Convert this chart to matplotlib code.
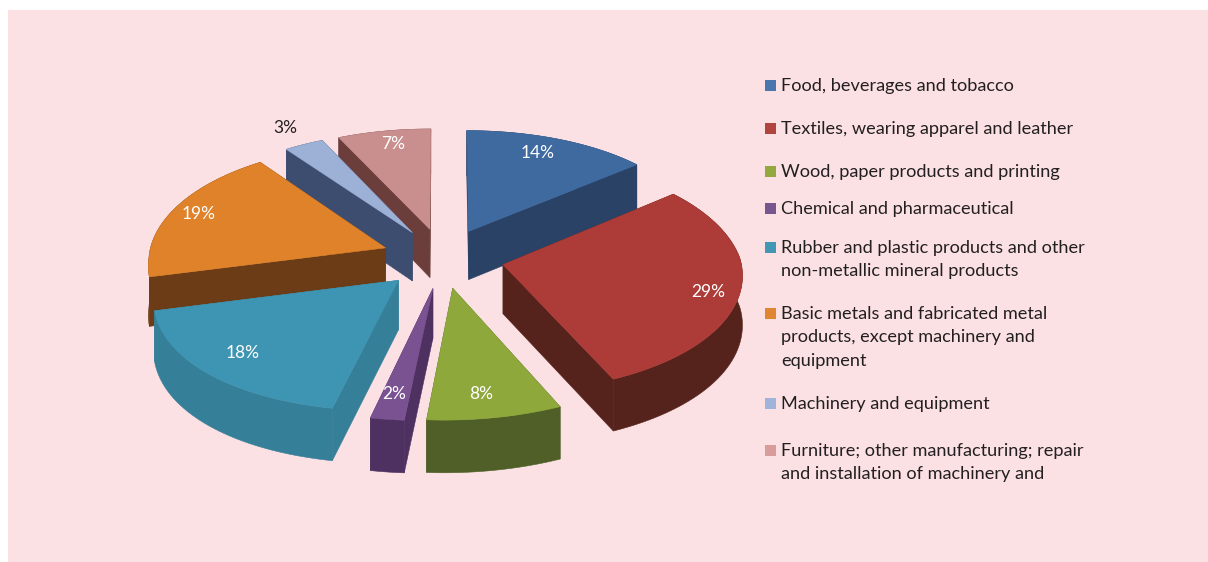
import numpy as np
import matplotlib.pyplot as plt
from matplotlib.patches import Rectangle

plt.rcParams['font.family'] = ['Lato', 'DejaVu Sans']

labels = ['Food, beverages and tobacco',
          'Textiles, wearing apparel and leather',
          'Wood, paper products and printing',
          'Chemical and pharmaceutical',
          'Rubber and plastic products and other\nnon-metallic mineral products',
          'Basic metals and fabricated metal\nproducts, except machinery and\nequipment',
          'Machinery and equipment',
          'Furniture; other manufacturing; repair\nand installation of machinery and']
values = [14, 29, 8, 2, 18, 19, 3, 7]
pct_labels = ['14%', '29%', '8%', '2%', '18%', '19%', '3%', '7%']

top_colors = ['#3E6AA0', '#AD3C38', '#8FA83C', '#7A5291', '#3E95B3', '#DF8229', '#9DB0D6', '#C98F8E']
side_colors = ['#2A4266', '#55231C', '#4F5F27', '#4E3160', '#367F98', '#6B3C16', '#3D4D70', '#6B3E3C']
legend_colors = ['#4A75AD', '#B04540', '#93A83F', '#77558F', '#4298B4', '#E08530', '#A0B3D9', '#D89C9B']
pct_colors = ['white', 'white', 'white', 'white', 'white', 'white', '#231F20', 'white']

# layout, in pixels of the 1208x562 picture
pct_x = [538, 708, 481, 394, 243, 199, 285, 393]
pct_y = [152, 291, 393, 393, 352, 213, 127, 143]
legend_y = [85, 128, 171, 208, 247, 313, 403, 450]
cx, cy = 443, 258
rx, ry = 237, 116
explode = 0.26
depth = 49
shift = 80


def project(X, Y, drop=0.0):
    # squashed pie with some perspective, front is stretched and pushed left
    s = 1 - 0.1 * Y + 0.02 * Y ** 2
    sx = cx + rx * X * s - shift * np.maximum(s - 1, 0)
    sy = cy - ry * Y * (1 - 0.09 * Y) + drop * depth * (1 - 0.06 * Y)
    return sx, sy


fig = plt.figure(figsize=(12.08, 5.62), dpi=100)
ax = fig.add_axes([0, 0, 1, 1])
ax.set_xlim(0, 1208)
ax.set_ylim(562, 0)
ax.axis('off')
ax.add_patch(Rectangle((8, 10), 1200, 552, fc='#FBE1E4', ec='none'))

edges = np.cumsum([0] + values) / sum(values) * 2 * np.pi
mids = (edges[:-1] + edges[1:]) / 2
order = np.argsort(-np.cos(mids))

for i in order:
    t = np.linspace(edges[i], edges[i + 1], 60)
    ax0 = explode * np.sin(mids[i])
    ay0 = explode * np.cos(mids[i])
    arc_X = ax0 + np.sin(t)
    arc_Y = ay0 + np.cos(t)
    apex = project(ax0, ay0)
    apex_low = project(ax0, ay0, 1)
    tx, ty = project(arc_X, arc_Y)
    bx, by = project(arc_X, arc_Y, 1)

    faces = [
        ([apex[0], tx[0], bx[0], apex_low[0]], [apex[1], ty[0], by[0], apex_low[1]]),
        ([apex[0], tx[-1], bx[-1], apex_low[0]], [apex[1], ty[-1], by[-1], apex_low[1]]),
        (np.r_[tx, bx[::-1]], np.r_[ty, by[::-1]]),
    ]
    faces.sort(key=lambda f: np.mean(f[1]))
    for fx, fy in faces:
        ax.fill(fx, fy, fc=side_colors[i], ec=side_colors[i], lw=0.4)
    ax.fill(np.r_[apex[0], tx], np.r_[apex[1], ty], fc=top_colors[i], ec=top_colors[i], lw=0.4)

for x, y, s, c in zip(pct_x, pct_y, pct_labels, pct_colors):
    ax.text(x, y + 1, s, color=c, fontsize=12.5, ha='center', va='center')

for y, s, c in zip(legend_y, labels, legend_colors):
    ax.add_patch(Rectangle((765, y - 5.5), 11, 11, fc=c, ec='none'))
    ax.text(781, y - 7, s, color='#231F20', fontsize=13.05, ha='left', va='top', linespacing=1.56)

fig.savefig('out.png', dpi=100)
